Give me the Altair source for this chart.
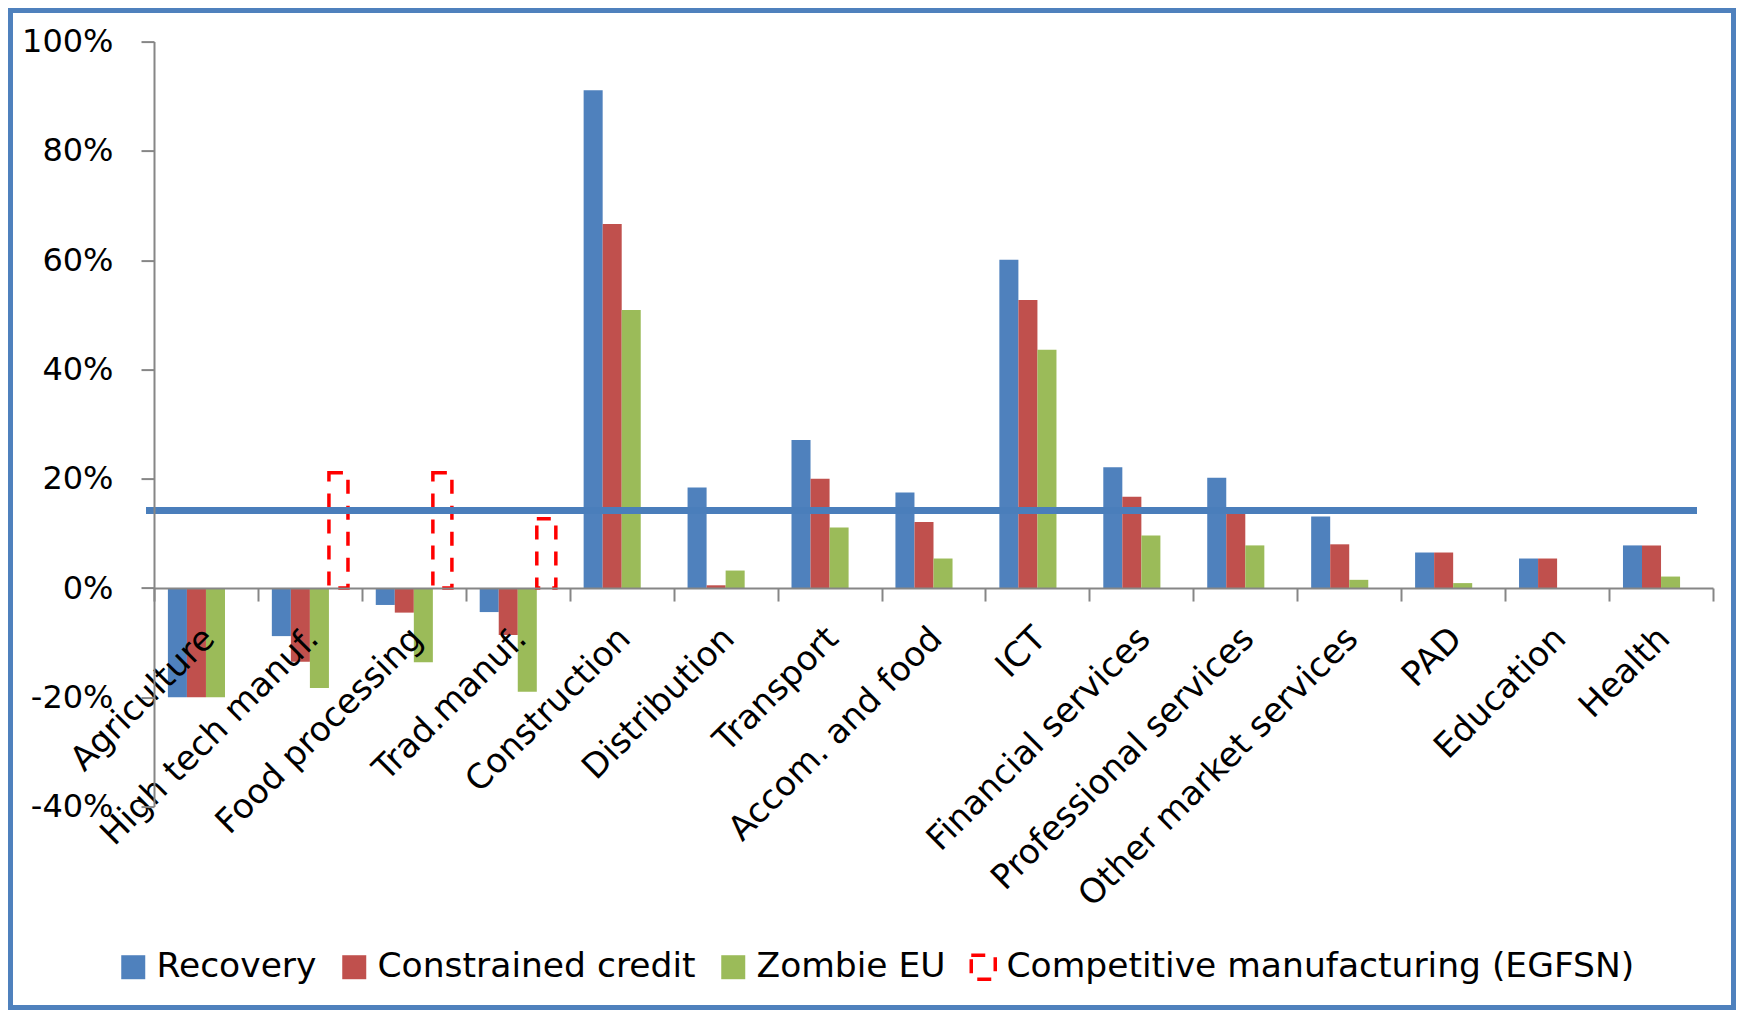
import altair as alt
import pandas as pd

categories = ["Agriculture", "High tech manuf.", "Food processing", "Trad.manuf.",
              "Construction", "Distribution", "Transport", "Accom. and food", "ICT",
              "Financial services", "Professional services", "Other market services",
              "PAD", "Education", "Health"]
series_names = ["Recovery", "Constrained credit", "Zombie EU",
                "Competitive manufacturing (EGFSN)"]

recovery = [-20.0, -8.8, -3.1, -4.4, 91.1, 18.4, 27.1, 17.5, 60.1, 22.1, 20.2, 13.1, 6.5, 5.4, 7.8]
constrained = [-20.0, -13.5, -4.5, -8.6, 66.6, 0.5, 20.0, 12.1, 52.7, 16.7, 14.0, 8.0, 6.5, 5.4, 7.8]
zombie = [-20.0, -18.3, -13.6, -19.0, 50.9, 3.2, 11.1, 5.4, 43.6, 9.6, 7.8, 1.5, 0.9, None, 2.1]
competitive = [None, 21.1, 21.1, 12.7, None, None, None, None, None, None, None, None, None, None, None]
threshold = [14.2]
y_ticks = [-40, -20, 0, 20, 40, 60, 80, 100]

rows = []
for i, c in enumerate(categories):
    for s, vals in zip(series_names, [recovery, constrained, zombie, competitive]):
        if vals[i] is not None:
            rows.append({"sector": c, "series": s, "value": vals[i]})
df = pd.DataFrame(rows)

W, H = 1559, 765
PAD_L, PAD_T, PAD_R, PAD_B = 146, 33.6, 23, 203.4
FONT = "DejaVu Sans"
GRAY = "#868686"

fill_scale = alt.Scale(domain=series_names, range=["#4F81BD", "#C0504D", "#9BBB59", "transparent"])
stroke_scale = alt.Scale(domain=series_names, range=["transparent", "transparent", "transparent", "#FF0000"])
dash_scale = alt.Scale(domain=series_names, range=[[1, 0], [1, 0], [1, 0], [14, 12]])

legend_spec = alt.Legend(orient="none", legendX=-38, legendY=908, direction="horizontal",
                         columns=4, symbolType="square", symbolSize=576, symbolStrokeWidth=3.5,
                         labelFont=FONT, labelFontSize=34.5, labelColor="black", labelOffset=6,
                         columnPadding=18, labelLimit=1000, padding=0)

bars = alt.Chart(df).mark_bar(strokeWidth=3.5).encode(
    x=alt.X("sector:N", sort=categories, title=None,
            scale=alt.Scale(domain=categories, paddingInner=0, paddingOuter=0),
            axis=alt.Axis(orient="bottom", offset=-H * 40 / 140, tickBand="extent", tickSize=13,
                          tickColor=GRAY, tickWidth=2, domainColor=GRAY, domainWidth=2,
                          labelAngle=-45, labelAlign="right", labelBaseline="top",
                          labelFont=FONT, labelFontSize=34, labelColor="black",
                          labelPadding=20, labelOffset=-9, labelOverlap=False,
                          labelLimit=1000, zindex=1)),
    xOffset=alt.XOffset("series:N", sort=series_names,
                        scale=alt.Scale(domain=series_names, paddingInner=0, paddingOuter=0.73)),
    y=alt.Y("value:Q", title=None,
            scale=alt.Scale(domain=[-40, 100], nice=False, zero=True),
            axis=alt.Axis(values=y_ticks, labelExpr="datum.value + '%'", tickSize=13,
                          tickColor=GRAY, tickWidth=2, domainColor=GRAY, domainWidth=2,
                          labelFont=FONT, labelFontSize=32, labelColor="black",
                          labelPadding=28, grid=False, zindex=1)),
    fill=alt.Fill("series:N", scale=fill_scale, legend=legend_spec, title=None),
    stroke=alt.Stroke("series:N", scale=stroke_scale, legend=legend_spec, title=None),
    strokeDash=alt.StrokeDash("series:N", scale=dash_scale, legend=legend_spec, title=None),
)

rule = alt.Chart(pd.DataFrame({"v": threshold})).mark_rule(color="#4A7EBB", strokeWidth=7).encode(
    y="v:Q", x=alt.value(-8), x2=alt.value(W - 16)
)

border = alt.Chart(pd.DataFrame({"a": [0]})).mark_rect(
    fill="transparent", stroke="#4F81BD", strokeWidth=5
).encode(
    x=alt.value(-PAD_L + 2.5), x2=alt.value(W + PAD_R - 2.5),
    y=alt.value(-PAD_T + 2.5), y2=alt.value(H + PAD_B - 2.5)
)

chart = alt.layer(bars, rule, border).properties(
    width=W, height=H,
    padding={"left": PAD_L, "top": PAD_T, "right": PAD_R, "bottom": PAD_B},
    autosize=alt.AutoSizeParams(type="none"),
).configure(font=FONT).configure_view(stroke="transparent", strokeWidth=0)

chart.save("out.html", embed_options={"renderer": "svg", "actions": False})
